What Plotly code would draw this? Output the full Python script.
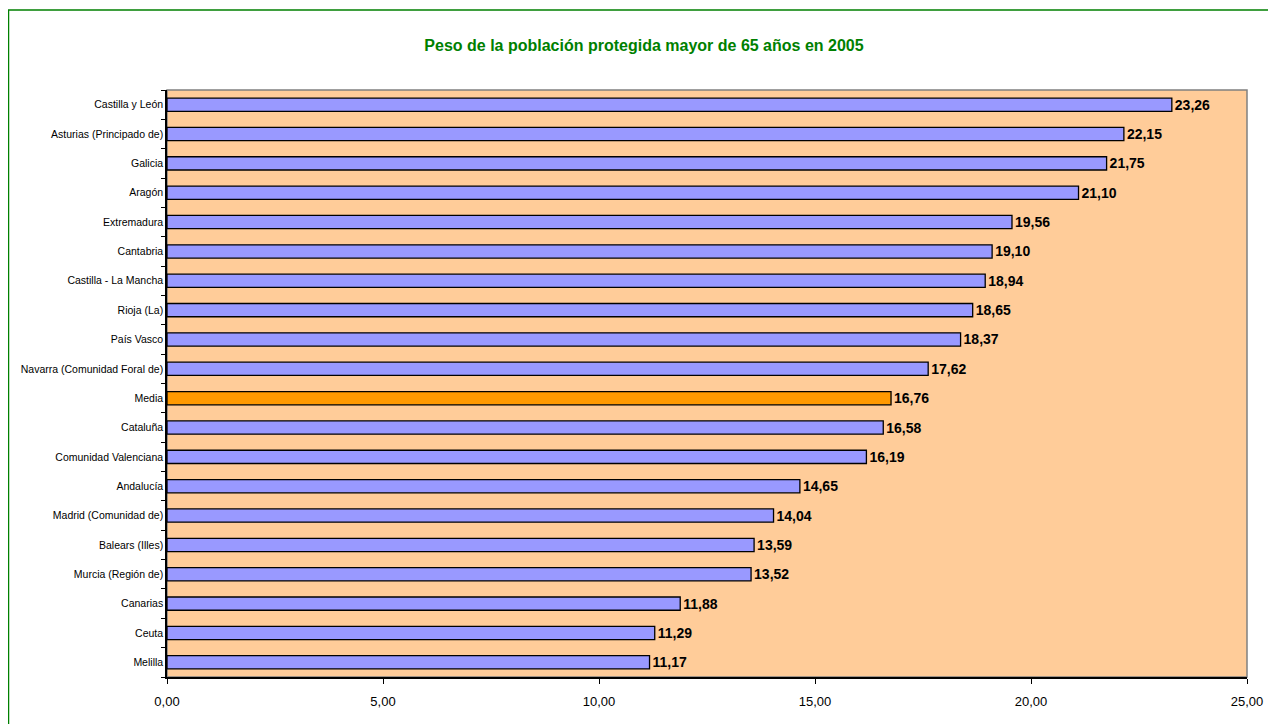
import plotly.graph_objects as go

categories = ["Castilla y León", "Asturias (Principado de)", "Galicia", "Aragón", "Extremadura",
              "Cantabria", "Castilla - La Mancha", "Rioja (La)", "País Vasco",
              "Navarra (Comunidad Foral de)", "Media", "Cataluña", "Comunidad Valenciana",
              "Andalucía", "Madrid (Comunidad de)", "Balears (Illes)", "Murcia (Región de)",
              "Canarias", "Ceuta", "Melilla"]
values = [23.26, 22.15, 21.75, 21.10, 19.56, 19.10, 18.94, 18.65, 18.37, 17.62,
          16.76, 16.58, 16.19, 14.65, 14.04, 13.59, 13.52, 11.88, 11.29, 11.17]
tick_vals = [0, 5, 10, 15, 20, 25]
tick_text = ["0,00", "5,00", "10,00", "15,00", "20,00", "25,00"]
title_text = "Peso de la población protegida mayor de 65 años en 2005"

bar_colors = ["#FF9900" if c == "Media" else "#9999FF" for c in categories]
labels = [f"{v:.2f}".replace(".", ",") for v in values]

NARROW = "Liberation Sans Narrow, Arial Narrow, Liberation Sans"
# page has an 8px body margin, so figure coords = page coords - 8
W, H = 1268, 716
L, R, T, B = 159, 1239, 82, 669

fig = go.Figure(go.Bar(
    x=values, y=categories, orientation="h",
    marker=dict(color=bar_colors, line=dict(color="black", width=1.3)),
    width=0.45,
    text=labels, textposition="outside", cliponaxis=False,
    constraintext="none", textangle=0,
    textfont=dict(family=NARROW, size=14, color="black", weight="bold"),
    hoverinfo="skip",
))

pw, ph = R - L, B - T
fig.add_shape(type="rect", xref="paper", yref="paper",
              x0=(0.5 - L) / pw, x1=(W + 10 - L) / pw,
              y0=(B - (H + 10)) / ph, y1=1 + (T - 2) / ph,
              line=dict(color="#008000", width=1.5), layer="below")
fig.add_shape(type="rect", xref="paper", yref="paper", x0=0, x1=1, y0=0, y1=1,
              line=dict(color="#808080", width=1.5), layer="below")

fig.update_layout(
    width=W, height=H,
    margin=dict(l=L, r=W - R, t=T, b=H - B),
    paper_bgcolor="white", plot_bgcolor="#FFCC99",
    showlegend=False,
    title=dict(text=f"<b>{title_text}</b>", x=636 / W, xanchor="center", xref="container",
               y=1 - 37 / H, yanchor="middle", yref="container",
               font=dict(family=NARROW, size=16, color="#008000")),
    font=dict(family="Liberation Sans, Arial", color="black"),
)
fig.update_xaxes(range=[0, 25], tickvals=tick_vals, ticktext=tick_text,
                 showgrid=False, zeroline=False, showline=True, linecolor="black", linewidth=1.5,
                 ticks="outside", ticklen=5, tickcolor="black", ticklabelstandoff=7,
                 tickfont=dict(family="Liberation Sans, Arial", size=13, color="black"), fixedrange=True)
fig.update_yaxes(categoryorder="array", categoryarray=categories[::-1],
                 showgrid=False, showline=True, linecolor="black", linewidth=1.5,
                 ticks="outside", ticklen=4, tickcolor="black", tickson="boundaries",
                 tickfont=dict(family=NARROW, size=10.5, color="black"),
                 fixedrange=True)

fig.write_html("out.html")
